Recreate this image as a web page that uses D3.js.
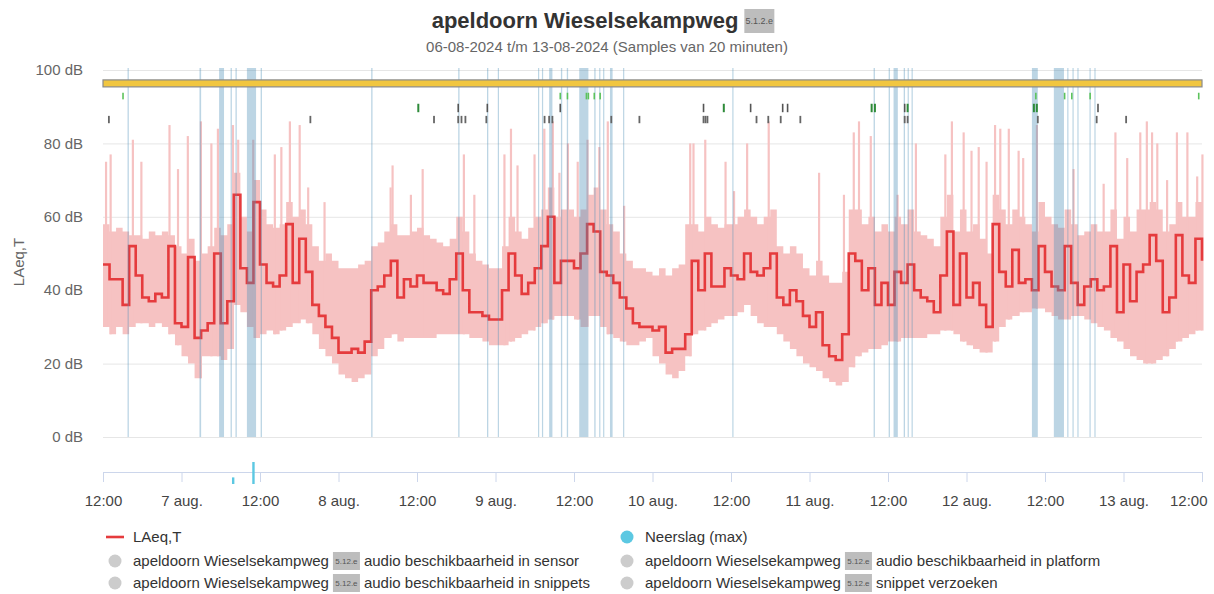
<!DOCTYPE html>
<html><head><meta charset="utf-8">
<script src="https://cdn.jsdelivr.net/npm/d3@7"></script>
<style>body{margin:0;background:#fff;font-family:"Liberation Sans",Arial,sans-serif}</style>
</head><body><svg id="c" width="1214" height="594"></svg>
<script>
// ---- DATA (hourly samples, hour 0 = 06-08-2024 12:00) ----
const laeq = [47,43,43,36,52,44,38,37,39,38,
 52,31,30,49,27,29,31,50,31,37,
 66,46,42,64,47,42,41,44,58,42,
 54,45,36,33,30,27,23,23,24,23,
 26,40,41,44,48,38,43,41,44,42,
 42,40,39,43,50,40,34,34,33,32,
 32,40,50,44,39,42,46,52,60,42,
 48,48,46,50,58,56,45,44,42,38,
 35,31,30,30,29,30,23,24,24,28,
 48,40,50,41,41,46,44,43,50,45,
 44,46,50,38,36,40,37,33,30,34,
 25,22,21,28,50,48,40,46,36,42,
 36,45,42,47,40,38,37,34,44,56,
 36,50,38,42,36,30,58,45,41,51,
 42,43,40,52,45,41,40,52,42,36,
 41,43,40,41,52,34,47,37,45,47,
 55,48,34,38,55,44,42,54,48];
const bandLow = [30,28,30,28,30,31,31,30,31,30,
 28,25,22,20,16,22,22,22,21,24,
 36,34,30,27,28,29,28,29,30,31,
 32,31,28,24,22,20,17,16,15,16,
 17,22,24,27,28,26,27,27,27,27,
 27,28,28,28,28,28,27,27,26,25,
 25,25,26,27,28,29,30,31,32,33,
 33,33,32,30,33,33,30,28,27,26,
 25,25,26,27,22,20,17,16,18,22,
 28,29,30,31,32,33,33,34,36,33,
 31,30,30,28,26,24,22,20,19,18,
 16,15,14,15,19,22,23,24,24,25,
 26,26,27,27,27,27,28,28,29,29,
 28,26,25,24,23,23,26,30,32,33,
 34,34,35,35,34,33,32,32,33,33,
 32,31,30,29,27,26,24,22,21,20,
 20,21,22,24,26,27,28,29,29];
const bandHigh = [58,56,57,56,55,55,54,56,55,56,
 55,52,50,54,48,50,52,57,55,58,
 72,60,56,70,62,58,57,58,64,60,
 62,58,52,48,50,48,46,46,46,47,
 48,52,53,56,58,55,55,56,57,55,
 54,53,52,54,60,56,50,48,47,46,
 46,52,60,56,54,57,60,62,68,60,
 62,62,60,62,66,68,62,58,56,50,
 48,46,46,45,44,46,44,46,47,58,
 58,56,60,58,57,58,58,60,62,60,
 58,60,62,52,50,52,50,46,44,48,
 44,42,42,45,62,62,58,60,56,58,
 56,60,58,62,56,55,54,52,60,66,
 56,62,56,58,54,50,66,62,58,62,
 60,58,56,64,60,58,57,62,58,55,
 56,58,56,56,62,54,60,56,62,62,
 64,62,56,58,64,60,60,64,60];
const peakHours = [0.3,1.0,4.4,5.7,10.0,11.3,12.8,14.8,16.4,17.4,19.7,20.5,22.8,26.1,27.1,28.4,29.9,31.2,33.7,
 43.8,44.1,46.9,48.7,55.0,56.6,61.2,62.2,63.2,65.8,67.3,68.6,69.6,70.9,72.4,73.9,75.7,77.0,79.5,
 89.6,90.1,91.9,95.0,96.3,98.3,101.6,109.3,113.1,114.6,115.4,117.2,121.3,124.1,
 128.6,129.6,131.4,132.6,133.7,134.9,136.2,137.0,138.3,139.8,140.5,142.6,148.2,152.8,154.6,156.4,158.4,159.4,160.2,161.0,162.5,164.0,165.6,167.1,167.9];
const peakValues = [75,77,81,75,85,73,82,86,80,84,85,81,81,77,79,86,85,68,64,
 68,74,66,73,77,66,77,84,74,77,84,86,72,80,75,81,79,86,63,
 80,80,81,75,67,80,86,72,66,83,86,82,66,80,
 77,86,83,78,79,75,85,84,84,78,76,85,73,69,83,76,83,86,83,80,70,83,83,71,77];
const gapStart = [3.75,14.75,17.75,19.5,20.25,22.0,24.1,41.0,54.3,58.7,60.35,66.5,67.1,68.2,70.0,70.9,72.8,75.1,75.85,76.45,77.5,79.5,96.2,117.8,120.1,120.85,122.4,123.0,123.6,142.0,145.35,147.4,148.2,148.95,150.8,151.55];
const gapEnd   = [3.95,15.0,18.5,19.7,20.45,23.4,24.3,41.2,54.5,58.9,60.5,66.65,67.25,68.7,70.2,71.1,74.2,75.3,76.0,76.6,77.9,79.65,96.35,118.0,120.3,121.5,122.6,123.15,123.75,142.9,146.9,147.55,148.35,149.1,150.95,151.7];
const sensorRowHours = [3.06,69.9,71.0,73.9,74.2,75.1,76.0,142.6,147.0,148.1,150.9,167.5];
const platformGreenHours = [48.2,94.9,117.5,118.0,123.0,142.3,142.75];
const platformDarkHours = [54.3,58.75,69.9,91.8,99.0,103.9,104.65,122.55,152.1];
const snippetHours = [0.9,31.7,50.6,54.3,54.8,55.4,58.6,67.5,68.2,68.7,77.7,82.0,91.8,92.1,92.4,99.9,101.7,103.6,106.6,122.55,123.0,142.9,151.9,156.4];
const precipHours = [19.9,23.0];
const precipValues = [0.3,1.0];
const yTicks = [0,20,40,60,80,100];
const xTickHours = [0,12,24,36,48,60,72,84,96,108,120,132,144,156,168];
const xTickLabels = ["12:00","7 aug.","12:00","8 aug.","12:00","9 aug.","12:00","10 aug.","12:00","11 aug.","12:00","12 aug.","12:00","13 aug.","12:00"];
const titleText = "apeldoorn Wieselsekampweg";
const titleBadge = "5.1.2.e";
const subtitleText = "06-08-2024 t/m 13-08-2024 (Samples van 20 minuten)";
const legendPrefix = "apeldoorn Wieselsekampweg";
const legendBadge = "5.12.e";
const legendSuffixes = ["audio beschikbaarheid in sensor","audio beschikbaarheid in platform","audio beschikbaarheid in snippets","snippet verzoeken"];

// ---- CHART ----
const svg = d3.select('#c');
const t0 = Date.UTC(2024,7,6,12);
const HOUR = 3600e3;
const toDate = h => new Date(t0 + h*HOUR);
const x = d3.scaleUtc().domain([toDate(0), toDate(168)]).range([103,1202]);
const y = d3.scaleLinear().domain([0,100]).range([437,70]);
const yP = d3.scaleLinear().domain([0,1]).range([484,462]);
const FONT = '"Liberation Sans",Arial,sans-serif';

svg.append('rect').attr('width',1214).attr('height',594).attr('fill','#fff');

// grid
svg.append('g').selectAll('line').data(yTicks).join('line')
  .attr('x1',x.range()[0]).attr('x2',x.range()[1])
  .attr('y1',d=>y(d)+0.5).attr('y2',d=>y(d)+0.5)
  .attr('stroke','#e6e6e6').attr('stroke-width',1);
svg.append('g').selectAll('text').data(yTicks).join('text')
  .attr('x',83).attr('y',d=>y(d)).attr('dy','0.35em')
  .attr('text-anchor','end').attr('font-family',FONT).attr('font-size',15).attr('fill','#666')
  .text(d=>d+' dB');
svg.append('text').attr('transform','translate(24,262) rotate(-90)')
  .attr('text-anchor','middle').attr('font-family',FONT).attr('font-size',15).attr('fill','#666')
  .text('LAeq,T');

// band
const idx = d3.range(laeq.length);
const area = d3.area().x(i=>x(toDate(i))).y0(i=>y(bandLow[i])).y1(i=>y(bandHigh[i])).curve(d3.curveStepAfter);
svg.append('path').datum(idx).attr('d',area).attr('fill','#f6c2c2');
svg.append('g').selectAll('rect').data(peakHours.map((h,i)=>({h,v:peakValues[i]}))).join('rect')
  .attr('x',d=>x(toDate(d.h)))
  .attr('width',d=>x(toDate(d.h+1/3))-x(toDate(d.h)))
  .attr('y',d=>y(d.v))
  .attr('height',d=>y(bandLow[Math.floor(d.h)])-y(d.v))
  .attr('fill','#f6c2c2');

// line
const line = d3.line().x(i=>x(toDate(i))).y(i=>y(laeq[i])).curve(d3.curveStepAfter);
svg.append('path').datum(idx).attr('d',line).attr('fill','none')
  .attr('stroke','#e53b3d').attr('stroke-width',2.6).attr('stroke-linejoin','miter');

// gaps
svg.append('g').selectAll('rect').data(gapStart.map((s,i)=>({s,e:gapEnd[i]}))).join('rect')
  .attr('x',d=>x(toDate(d.s)))
  .attr('width',d=>Math.max(1.2,x(toDate(d.e))-x(toDate(d.s))))
  .attr('y',y(100)-2).attr('height',y(0)-y(100)+2)
  .attr('fill','rgba(80,145,185,0.38)');

// yellow availability bar
svg.append('rect').attr('x',x.range()[0]).attr('width',x.range()[1]-x.range()[0])
  .attr('y',y(97.3)).attr('height',y(95.4)-y(97.3))
  .attr('fill','#f1c640').attr('stroke','#8a8a8a').attr('stroke-width',1.2);

// event rows
function row(hours, top, bottom, color, w){
  svg.append('g').selectAll('rect').data(hours).join('rect')
    .attr('x',h=>x(toDate(h))-w/2).attr('width',w)
    .attr('y',y(top)).attr('height',y(bottom)-y(top)).attr('fill',color);
}
row(sensorRowHours, 93.8, 92.0, '#5cc35c', 1.6);
row(platformGreenHours, 90.8, 88.5, '#2e8b3a', 2);
row(platformDarkHours, 90.8, 88.5, '#555', 1.6);
row(snippetHours, 87.5, 85.5, '#666', 1.8);

// x axis
const xAxis = d3.axisBottom(x).tickValues(xTickHours.map(toDate))
  .tickFormat((d,i)=>xTickLabels[i]).tickSize(10).tickSizeOuter(0).tickPadding(13);
const gx = svg.append('g').attr('transform','translate(0,472)').call(xAxis);
gx.select('.domain').attr('stroke','#ccd6eb');
gx.selectAll('.tick line').attr('stroke','#ccd6eb');
gx.selectAll('.tick text').attr('font-family',FONT).attr('font-size',15).attr('fill','#444');
gx.selectAll('.tick text').filter((d,i,n)=>i===n.length-1).attr('text-anchor','end').attr('x',5);

// precipitation
svg.append('g').selectAll('rect').data(precipHours.map((h,i)=>({h,v:precipValues[i]}))).join('rect')
  .attr('x',d=>x(toDate(d.h))-1.2).attr('width',2.4)
  .attr('y',d=>yP(d.v)).attr('height',d=>yP(0)-yP(d.v)).attr('fill','#5cc8e2');

// title
function badge(cx, cy, w, h, txt, fs){
  svg.append('rect').attr('x',cx).attr('y',cy-h/2).attr('width',w).attr('height',h).attr('fill','#bdbdbd');
  svg.append('text').attr('x',cx+w/2).attr('y',cy).attr('dy','0.35em').attr('text-anchor','middle')
    .attr('font-family',FONT).attr('font-size',fs).attr('fill','#555').text(txt);
}
const tt = svg.append('text').attr('x',585).attr('y',28).attr('text-anchor','middle')
  .attr('font-family',FONT).attr('font-size',22).attr('font-weight','bold').attr('fill','#333').text(titleText);
const tb = tt.node().getBBox();
badge(tb.x+tb.width+6, 21, 30, 24, titleBadge, 9);
svg.append('text').attr('x',607).attr('y',52).attr('text-anchor','middle')
  .attr('font-family',FONT).attr('font-size',15).attr('fill','#666').text(subtitleText);

// legend
function ltext(x0, yb, s){
  const t = svg.append('text').attr('x',x0).attr('y',yb).attr('font-family',FONT).attr('font-size',15).attr('fill','#333').text(s);
  return t.node().getComputedTextLength();
}
svg.append('line').attr('x1',106).attr('x2',124).attr('y1',537).attr('y2',537).attr('stroke','#e53b3d').attr('stroke-width',2.6);
ltext(133, 542, 'LAeq,T');
svg.append('circle').attr('cx',627).attr('cy',537).attr('r',6.5).attr('fill','#5cc8e2');
ltext(645, 542, 'Neerslag (max)');
const legPos = [[115,133,561],[627,645,561],[115,133,583],[627,645,583]];
legendSuffixes.forEach((s,i)=>{
  const [cx,tx,cy] = legPos[i];
  svg.append('circle').attr('cx',cx).attr('cy',cy).attr('r',6.5).attr('fill','#cccccc');
  const w1 = ltext(tx, cy+5, legendPrefix);
  badge(tx+w1+4, cy, 27, 18, legendBadge, 8);
  ltext(tx+w1+35, cy+5, s);
});
</script></body></html>
